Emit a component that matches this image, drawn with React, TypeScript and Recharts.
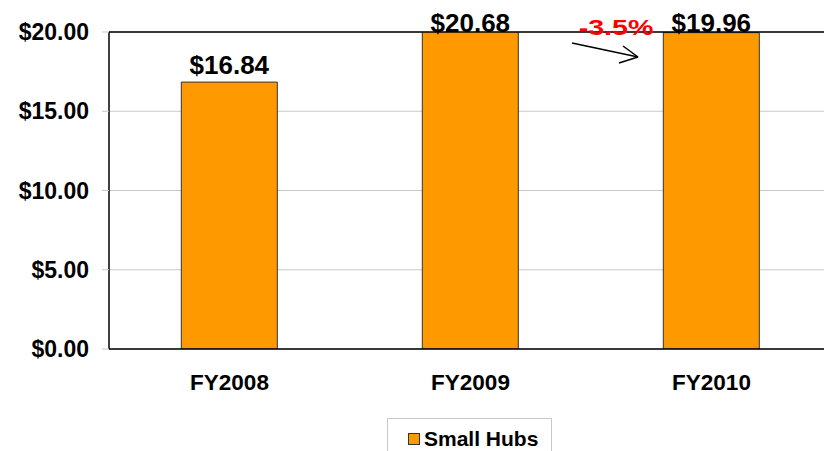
import { BarChart, Bar, XAxis, YAxis, CartesianGrid, Legend, LabelList, ReferenceLine } from 'recharts'

const years = ['FY2008', 'FY2009', 'FY2010']
const smallHubs = [16.84, 20.68, 19.96]
const yTicks = [0, 5, 10, 15, 20]

const data = years.map((year, i) => ({ year, smallHubs: smallHubs[i] }))

const change = ((smallHubs[2] - smallHubs[1]) / smallHubs[1]) * 100
const font = '"Liberation Sans", Arial, sans-serif'
const PLOT_TOP = 32

function BarValue(props) {
  const { x, y, width, value } = props
  const baseline = Math.max(y - 8, PLOT_TOP - 0.5)
  return (
    <text x={x + width / 2} y={baseline} textAnchor="middle" fontFamily={font} fontWeight="bold" fontSize={26} fill="#000">
      ${value.toFixed(2)}
    </text>
  )
}

function LegendBox() {
  return (
    <div style={{ border: '1px solid #c8c8c8', width: 165, height: 40, boxSizing: 'border-box', display: 'flex', alignItems: 'flex-start', paddingTop: 8, paddingLeft: 20, fontFamily: font, fontWeight: 'bold', fontSize: 21, color: '#000' }}>
      <span style={{ display: 'inline-block', width: 10, height: 10, background: '#FF9900', border: '1px solid #333', marginTop: 6, marginRight: 4 }} />
      <span style={{ lineHeight: '24px' }}>Small Hubs</span>
    </div>
  )
}

export default function App() {
  return (
    <div style={{ position: 'absolute', left: 0, top: 0, width: 824, height: 451, overflow: 'hidden', background: '#fff' }}>
      <BarChart width={840} height={451} data={data} margin={{ top: PLOT_TOP, right: 8, left: 0, bottom: 0 }} barCategoryGap="30%">
        <CartesianGrid vertical={false} stroke="#c8c8c8" />
        <XAxis dataKey="year" height={62} axisLine={{ stroke: '#000', strokeWidth: 1.5 }} tickLine={false} tickMargin={19}
          tick={{ fill: '#000', fontFamily: font, fontWeight: 'bold', fontSize: 22.5 }} />
        <YAxis domain={[0, 20]} ticks={yTicks} allowDataOverflow width={109} tickSize={7} tickMargin={13}
          axisLine={{ stroke: '#000', strokeWidth: 1.5 }} tickLine={{ stroke: '#c8c8c8' }}
          tickFormatter={(v) => `$${v.toFixed(2)}`}
          tick={{ fill: '#000', fontFamily: font, fontWeight: 'bold', fontSize: 23 }} />
        <ReferenceLine y={20} stroke="#000" strokeWidth={1.5} />
        <Legend layout="vertical" align="center" verticalAlign="bottom" content={<LegendBox />}
          wrapperStyle={{ left: 387, top: 418, bottom: 'auto', width: 165 }} />
        <Bar dataKey="smallHubs" name="Small Hubs" fill="#FF9900" stroke="#333" strokeWidth={1} isAnimationActive={false}>
          <LabelList dataKey="smallHubs" content={<BarValue />} />
        </Bar>
      </BarChart>
      <svg width={824} height={451} style={{ position: 'absolute', left: 0, top: 0, pointerEvents: 'none' }}>
        <text transform="translate(616,35) scale(1.3,1)" textAnchor="middle" fontFamily={font} fontWeight="bold" fontSize={22} fill="#FF0000">
          {change.toFixed(1)}%
        </text>
        <g stroke="#000" strokeWidth={1.5} fill="none">
          <line x1={572} y1={43} x2={638} y2={57} />
          <line x1={623} y1={46} x2={638} y2={57} />
          <line x1={619} y1={63} x2={638} y2={57} />
        </g>
      </svg>
    </div>
  )
}
